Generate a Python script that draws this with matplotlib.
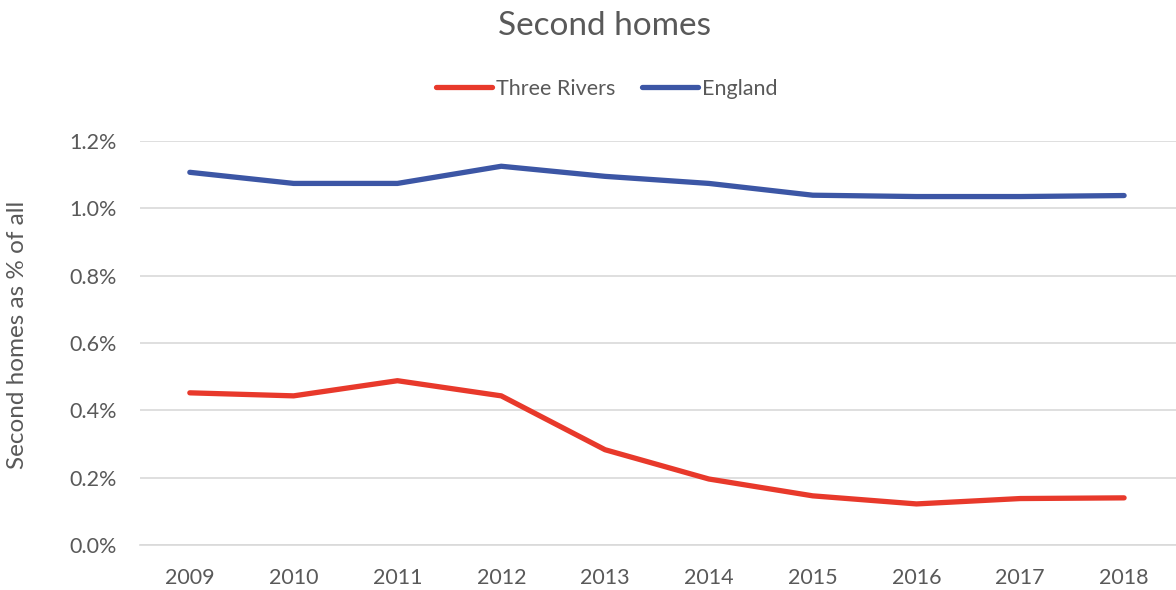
import matplotlib.pyplot as plt
from matplotlib.ticker import FuncFormatter

years = ['2009', '2010', '2011', '2012', '2013', '2014', '2015', '2016', '2017', '2018']
three_rivers = [0.452, 0.443, 0.488, 0.443, 0.283, 0.196, 0.146, 0.122, 0.138, 0.140]
england = [1.107, 1.074, 1.074, 1.125, 1.095, 1.074, 1.039, 1.035, 1.035, 1.038]

plt.rcParams['font.family'] = ['Lato', 'DejaVu Sans']
grey = '#595959'

fig = plt.figure(figsize=(11.76, 5.9), dpi=100)
ax = fig.add_axes([140 / 1176, 1 - 545 / 590, 1036 / 1176, 404 / 590])

x = range(len(years))
ax.plot(x, three_rivers, color='#e8392b', lw=3.8, solid_capstyle='round', label='Three Rivers')
ax.plot(x, england, color='#3c56a5', lw=3.8, solid_capstyle='round', label='England')

ax.set_xlim(-0.48, len(years) - 0.5)
ax.set_ylim(0, 1.2)
ax.set_yticks([0, 0.2, 0.4, 0.6, 0.8, 1.0, 1.2])
ax.yaxis.set_major_formatter(FuncFormatter(lambda v, p: f'{v:.1f}%'))
ax.set_xticks(list(x))
ax.set_xticklabels(years)
ax.grid(axis='y', color='#d9d9d9', lw=1.2)
ax.set_axisbelow(True)
for s in ['top', 'right', 'left']:
    ax.spines[s].set_visible(False)
ax.spines['bottom'].set_color('#d9d9d9')
ax.spines['bottom'].set_linewidth(1.2)
ax.tick_params(length=0, labelsize=15.5, colors=grey)
ax.tick_params(axis='x', pad=16.5)
ax.tick_params(axis='y', pad=16.5)

ax.set_ylabel('Second homes as % of all', fontsize=17.5, color=grey)
ax.yaxis.set_label_coords(-0.108, 0.52)
fig.text(0.514, 1 - 26 / 590, 'Second homes', ha='center', va='center', fontsize=24, color=grey)
fig.legend(loc='center', bbox_to_anchor=(0.516, 1 - 89 / 590), ncol=2, frameon=False,
           fontsize=15.5, labelcolor=grey, handlelength=2.6, handletextpad=0.2, columnspacing=1.25)

fig.savefig('out.png', dpi=100)
